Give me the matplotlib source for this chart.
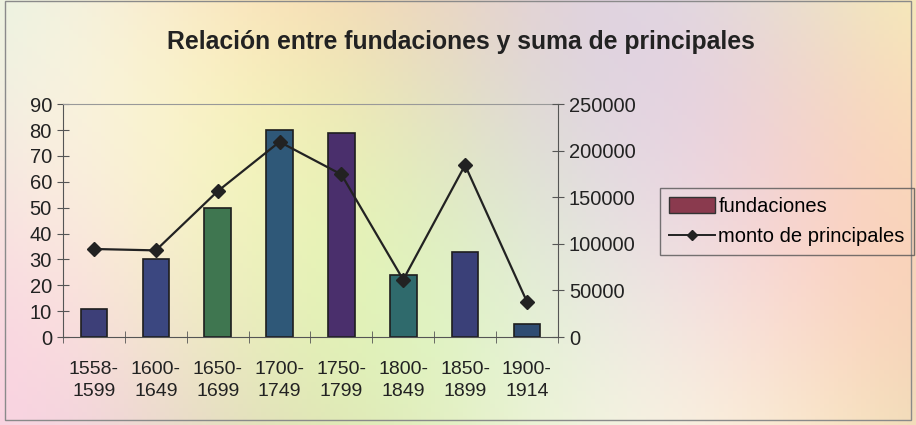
import numpy as np
import matplotlib.pyplot as plt
from matplotlib.patches import Rectangle, Patch
from matplotlib.lines import Line2D

periodos = ["1558-\n1599", "1600-\n1649", "1650-\n1699", "1700-\n1749",
            "1750-\n1799", "1800-\n1849", "1850-\n1899", "1900-\n1914"]
fundaciones = [11, 30, 50, 80, 79, 24, 33, 5]
monto = [94500, 93000, 156500, 209500, 174500, 61500, 184500, 38000]

# el escaneo deja cada barra de un tono distinto
colores_barras = ["#3d3f78", "#3b4780", "#3f7650", "#2f5878",
                  "#4a2f6c", "#2f6a6c", "#3a4078", "#2f4c72"]

plt.rcParams['font.family'] = ['Liberation Sans', 'DejaVu Sans']

fig = plt.figure(figsize=(9.16, 4.25), dpi=100)

# fondo pastel del escaneo
fondo = fig.add_axes([0, 0, 1, 1], zorder=-10)
gx = np.linspace(0, 1, 200)
gy = np.linspace(0, 1, 100)
X, Y = np.meshgrid(gx, gy)
r = 0.93 + 0.05 * np.sin(X * 7 + Y * 2)
g = 0.89 + 0.06 * np.cos(X * 5 - Y * 3)
b = 0.80 + 0.08 * np.sin(X * 9 + 1.5)
fondo.imshow(np.dstack([r, g, b]).clip(0, 1), aspect='auto', extent=[0, 1, 0, 1])
fondo.set_axis_off()
fig.patches.append(Rectangle((0.006, 0.012), 0.988, 0.985, transform=fig.transFigure,
                             fill=False, edgecolor='#8a8a8a', linewidth=1))

ax = fig.add_axes([0.0688, 0.207, 0.5402, 0.548])
ax.patch.set_alpha(0)
x = np.arange(len(periodos))
ax.bar(x, fundaciones, width=0.43, color=colores_barras,
       edgecolor='#1e1e1e', linewidth=1.2, zorder=2)
ax.set_xlim(-0.5, len(periodos) - 0.5)
ax.set_ylim(0, 90)
ax.set_yticks(range(0, 91, 10))
ax.set_xticks(x)
ax.set_xticklabels(periodos, fontsize=14, color='#222222', linespacing=1.4)
ax.set_xticks(np.arange(-0.5, len(periodos)), minor=True)
ax.tick_params(axis='x', which='major', length=0, pad=17)
ax.tick_params(axis='x', which='minor', direction='inout', length=8, color='#555555')
ax.tick_params(axis='y', direction='inout', length=8, labelsize=14.5,
               labelcolor='#222222', color='#555555', pad=4)
for lado in ['top', 'left', 'right', 'bottom']:
    ax.spines[lado].set_color('#555555')
ax.spines['top'].set_color('#999999')

ax2 = ax.twinx()
ax2.plot(x, monto, color='#222222', linewidth=1.6, marker='D',
         markersize=7, zorder=3)
ax2.set_ylim(0, 250000)
ax2.set_yticks(range(0, 250001, 50000))
ax2.tick_params(axis='y', direction='inout', length=8, labelsize=14.5,
                labelcolor='#222222', color='#555555', pad=4)
for lado in ['top', 'left', 'right', 'bottom']:
    ax2.spines[lado].set_visible(False)

fig.text(0.503, 0.9, "Relación entre fundaciones y suma de principales",
         ha='center', va='center', fontsize=17.8, fontweight='bold', color='#222222')

handles = [Patch(facecolor='#8a3a4e', edgecolor='#333333'),
           Line2D([], [], color='#222222', linewidth=1.4, marker='D', markersize=5)]
leg = fig.legend(handles, ["fundaciones", "monto de principales"],
                 loc='upper left', bbox_to_anchor=(0.7205, 0.558), fontsize=14.5,
                 frameon=True, fancybox=False, handlelength=2.3, handleheight=0.8,
                 handletextpad=0.15, borderpad=0.45, labelspacing=0.55,
                 borderaxespad=0)
leg.get_frame().set_edgecolor('#555555')
leg.get_frame().set_facecolor('none')
leg.get_frame().set_linewidth(1)

fig.savefig("out.png", dpi=100)
